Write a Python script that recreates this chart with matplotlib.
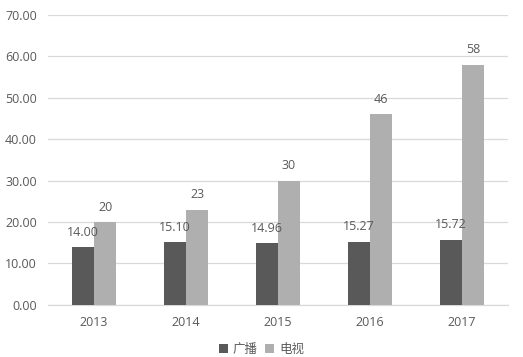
import matplotlib
matplotlib.use("Agg")
import matplotlib.pyplot as plt
import numpy as np

years = ["2013", "2014", "2015", "2016", "2017"]
radio = [14.00, 15.10, 14.96, 15.27, 15.72]
tv = [20, 23, 30, 46, 58]
series_names = ["广播", "电视"]

plt.rcParams['font.family'] = ['Open Sans', 'Noto Sans CJK SC', 'DejaVu Sans']

text_color = "#595959"
dark = "#595959"
light = "#afafaf"

fig = plt.figure(figsize=(5.23, 3.57), dpi=100)
ax = fig.add_axes([0.092, 0.146, 0.879, 0.812])

x = np.arange(len(years))
w = 0.24

b1 = ax.bar(x - w / 2, radio, w, color=dark, label=series_names[0], zorder=3)
b2 = ax.bar(x + w / 2, tv, w, color=light, label=series_names[1], zorder=3)

for rect, v in zip(b1, radio):
    ax.annotate(f"{v:.2f}", (rect.get_x() + rect.get_width() / 2, v),
                xytext=(0, 6), textcoords="offset points", ha="center",
                va="bottom", fontsize=9, color=text_color, zorder=4)
for rect, v in zip(b2, tv):
    ax.annotate(f"{v}", (rect.get_x() + rect.get_width() / 2, v),
                xytext=(0, 6), textcoords="offset points", ha="center",
                va="bottom", fontsize=9, color=text_color, zorder=4)

ax.set_xlim(-0.5, len(years) - 0.5)
ax.set_ylim(0, 70)
ax.set_yticks(np.arange(0, 71, 10))
ax.set_yticklabels([f"{t:.2f}" for t in np.arange(0, 71, 10)])
ax.set_xticks(x)
ax.set_xticklabels(years)

ax.grid(axis="y", color="#d9d9d9", linewidth=0.9, zorder=0)
for s in ["top", "right", "left"]:
    ax.spines[s].set_visible(False)
ax.spines["bottom"].set_color("#d9d9d9")
ax.spines["bottom"].set_linewidth(0.9)
ax.tick_params(axis="both", length=0, colors=text_color, labelsize=9)
ax.tick_params(axis="y", pad=8)
ax.tick_params(axis="x", pad=8)

fig.legend(handles=[b1, b2], labels=series_names, loc="center",
           bbox_to_anchor=(0.5, 0.022), ncol=2, frameon=False, fontsize=9,
           handlelength=0.7, handleheight=0.7, handletextpad=0.4,
           columnspacing=0.6, labelcolor=text_color)

fig.savefig("out.png", dpi=100)
